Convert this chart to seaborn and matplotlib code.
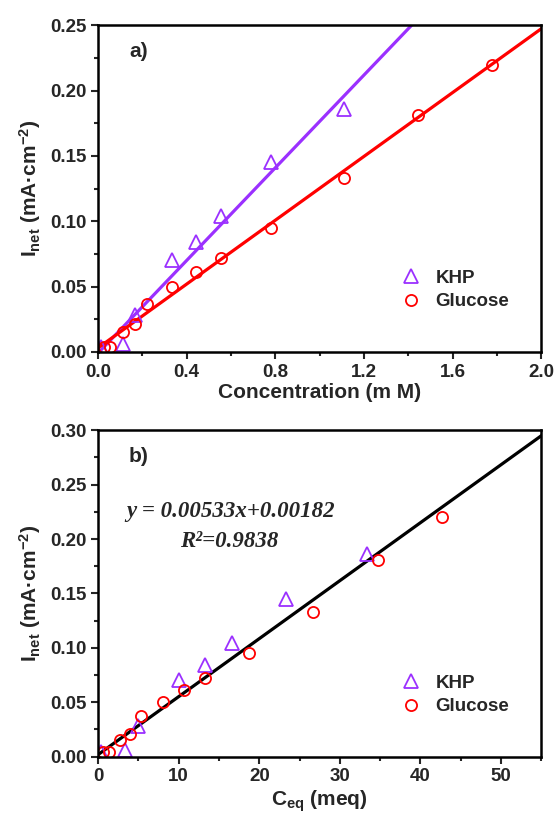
"""
Net current vs. concentration (a) and vs. equivalent COD (b)
for KHP and glucose standards.
"""

import matplotlib
matplotlib.use("Agg")
import matplotlib.pyplot as plt
from matplotlib.ticker import MultipleLocator
import seaborn as sns


# -------------------------
# Data
# -------------------------

khp_conc = [0.012, 0.111, 0.167, 0.333, 0.444, 0.556, 0.778, 1.111]
khp_meq = [0.35, 3.33, 5.0, 10.0, 13.33, 16.67, 23.33, 33.33]
khp_inet = [0.004, 0.006, 0.028, 0.070, 0.084, 0.104, 0.145, 0.186]

glu_conc = [0.028, 0.056, 0.111, 0.167, 0.222, 0.333, 0.444, 0.556,
            0.778, 1.111, 1.444, 1.778]
glu_meq = [0.67, 1.33, 2.67, 4.0, 5.33, 8.0, 10.67, 13.33,
           18.67, 26.67, 34.67, 42.67]
glu_inet = [0.004, 0.004, 0.015, 0.021, 0.037, 0.050, 0.061, 0.072,
            0.095, 0.133, 0.181, 0.220]

# fitted lines, end points
khp_fit_x = [0.0, 1.414]
khp_fit_y = [-0.001, 0.25]
glu_fit_x = [0.0, 2.0]
glu_fit_y = [0.003, 0.2475]
all_fit_x = [0.0, 55.0]
all_fit_y = [0.00182, 0.29497]

PURPLE = "#9B30FF"
RED = "#FF0000"


# -------------------------
# Style
# -------------------------

sns.set_style("ticks")
plt.rcParams['font.family'] = ['Liberation Sans', 'DejaVu Sans']
plt.rcParams['font.weight'] = 'bold'
plt.rcParams['mathtext.fontset'] = 'custom'
plt.rcParams['mathtext.rm'] = 'Liberation Sans:bold'
plt.rcParams['mathtext.it'] = 'Liberation Sans:bold'
plt.rcParams['mathtext.bf'] = 'Liberation Sans:bold'

fig, (ax1, ax2) = plt.subplots(2, 1, figsize=(5.57, 8.18), dpi=100)
plt.subplots_adjust(left=0.176, right=0.972, top=0.969, bottom=0.075,
                    hspace=0.24)


def markers(ax, x, y, marker, color, label, ms):
    sns.lineplot(x=x, y=y, ax=ax, marker=marker, linestyle="none",
                 markerfacecolor="none", markeredgecolor=color,
                 markeredgewidth=1.3, markersize=ms, label=label,
                 estimator=None, sort=False)


def style_axes(ax):
    for spine in ax.spines.values():
        spine.set_visible(True)
        spine.set_linewidth(1.8)
        spine.set_color("black")
    ax.tick_params(which="major", direction="out", length=5, width=1.5,
                   labelsize=13.5, top=False, right=False)
    ax.tick_params(which="minor", direction="out", length=3, width=1.5,
                   top=False, right=False)
    for lab in ax.get_xticklabels() + ax.get_yticklabels():
        lab.set_fontweight("bold")
    leg = ax.legend(loc="lower right", bbox_to_anchor=(0.965, 0.075),
                    frameon=False, fontsize=13.5, handletextpad=0.7,
                    labelspacing=0.35, handlelength=1.2)
    for t in leg.get_texts():
        t.set_fontweight("bold")


# -------------------------
# Panel a
# -------------------------

sns.lineplot(x=khp_fit_x, y=khp_fit_y, ax=ax1, color=PURPLE, linewidth=2.3)
sns.lineplot(x=glu_fit_x, y=glu_fit_y, ax=ax1, color=RED, linewidth=2.3)
markers(ax1, khp_conc, khp_inet, "^", PURPLE, "KHP", 10)
markers(ax1, glu_conc, glu_inet, "o", RED, "Glucose", 8)

ax1.set_xlim(0, 2.0)
ax1.set_ylim(0, 0.25)
ax1.xaxis.set_major_locator(MultipleLocator(0.4))
ax1.xaxis.set_minor_locator(MultipleLocator(0.2))
ax1.yaxis.set_major_locator(MultipleLocator(0.05))
ax1.yaxis.set_minor_locator(MultipleLocator(0.025))
ax1.xaxis.set_major_formatter(lambda v, p: f"{v:.1f}")
ax1.yaxis.set_major_formatter(lambda v, p: f"{v:.2f}")
ax1.set_xlabel("Concentration (m M)", fontsize=15, fontweight="bold",
               labelpad=2)
ax1.set_ylabel(r"I$_{\mathregular{net}}$ (mA·cm$^{\mathregular{-2}}$)",
               fontsize=15, fontweight="bold", labelpad=5)
ax1.text(0.07, 0.95, "a)", transform=ax1.transAxes, fontsize=15,
         fontweight="bold", va="top")
style_axes(ax1)


# -------------------------
# Panel b
# -------------------------

sns.lineplot(x=all_fit_x, y=all_fit_y, ax=ax2, color="black", linewidth=2.3)
markers(ax2, khp_meq, khp_inet, "^", PURPLE, "KHP", 10)
markers(ax2, glu_meq, glu_inet, "o", RED, "Glucose", 8)

ax2.set_xlim(0, 55)
ax2.set_ylim(0, 0.30)
ax2.xaxis.set_major_locator(MultipleLocator(10))
ax2.xaxis.set_minor_locator(MultipleLocator(5))
ax2.yaxis.set_major_locator(MultipleLocator(0.05))
ax2.yaxis.set_minor_locator(MultipleLocator(0.025))
ax2.xaxis.set_major_formatter(lambda v, p: f"{v:.0f}")
ax2.yaxis.set_major_formatter(lambda v, p: f"{v:.2f}")
ax2.set_xlabel(r"C$_{\mathregular{eq}}$ (meq)", fontsize=15,
               fontweight="bold", labelpad=2)
ax2.set_ylabel(r"I$_{\mathregular{net}}$ (mA·cm$^{\mathregular{-2}}$)",
               fontsize=15, fontweight="bold", labelpad=5)
ax2.text(0.07, 0.95, "b)", transform=ax2.transAxes, fontsize=15,
         fontweight="bold", va="top")
ax2.text(0.298, 0.752, "y = 0.00533x+0.00182", transform=ax2.transAxes,
         family="Liberation Serif", style="italic", fontweight="bold",
         fontsize=16.5, ha="center", va="center")
ax2.text(0.296, 0.66, "R²=0.9838", transform=ax2.transAxes,
         family="Liberation Serif", style="italic", fontweight="bold",
         fontsize=16.5, ha="center", va="center")
style_axes(ax2)


fig.savefig("out.png", dpi=100)
plt.close(fig)
